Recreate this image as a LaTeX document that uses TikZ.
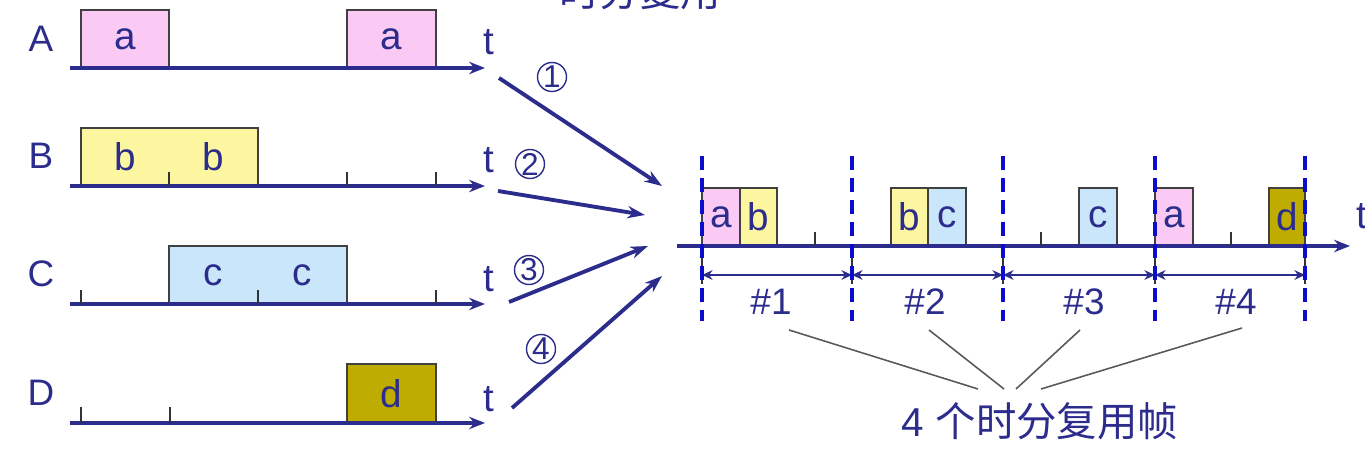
\documentclass[tikz,border=0pt]{standalone}
\usepackage{fontspec}
\setmainfont{Liberation Sans}
\newfontfamily\cjk{Noto Sans CJK SC}
\usetikzlibrary{arrows.meta}
\definecolor{navy}{RGB}{44,44,140}
\definecolor{dblue}{RGB}{12,12,205}
\definecolor{pinkf}{RGB}{250,202,245}
\definecolor{yelf}{RGB}{252,246,160}
\definecolor{bluef}{RGB}{202,230,250}
\definecolor{olivef}{RGB}{190,172,0}
\newcommand\slotbox[7]{\node[boxst,fill=#6,minimum width={(#4-#2)*0.02cm},minimum height={(#5-#3)*0.02cm}] (#1) at ({(#2+#4)/2},{(#3+#5)/2}) {#7};}
\begin{document}
\begin{tikzpicture}[x=0.02cm,y=-0.02cm,
  boxst/.style={draw=black!75,line width=0.6pt,inner sep=0pt,text=navy,font=\fontsize{22}{26}\selectfont},
  axis/.style={navy,line width=2.3pt,-{Stealth[length=9pt,width=7pt]}},
  feed/.style={navy,line width=2.2pt,-{Stealth[length=10pt,width=7pt]}},
  tickst/.style={black!80,line width=0.6pt},
  chname/.style={text=navy,font=\fontsize{21}{24}\selectfont,inner sep=0pt},
  tlab/.style={text=navy,font=\fontsize{22}{24}\selectfont,inner sep=0pt},
  circnum/.style={circle,draw=navy,line width=0.8pt,minimum size=0.58cm,inner sep=0pt,text=navy,font=\fontsize{18}{20}\selectfont},
  frlab/.style={text=navy,font=\fontsize{21}{24}\selectfont,inner sep=0pt},
  dashst/.style={dblue,line width=2.5pt,dash pattern=on 8pt off 4.5pt},
  span/.style={navy,line width=1.6pt,{Stealth[length=6pt,width=5.5pt]}-{Stealth[length=6pt,width=5.5pt]}},
  gline/.style={black!65,line width=0.9pt}
]
\useasboundingbox (0,0) rectangle (1365,455);
% title (cut by the top edge, as in the reference)
\node[text=navy,font=\cjk\fontsize{23}{26}\selectfont,inner sep=0pt] (title) at (640,-9) {时分复用};
% channel labels
\node[chname] (lA) at (41,39) {A};
\node[chname] (lB) at (41,156) {B};
\node[chname] (lC) at (41,274) {C};
\node[chname] (lD) at (41,393) {D};
% boxes left
\slotbox{a1}{81}{10}{169}{68}{pinkf}{a}
\slotbox{a2}{347}{10}{436}{68}{pinkf}{a}
\slotbox{b1}{81}{128}{258}{186}{yelf}{\makebox[1.76cm]{b}\makebox[1.78cm]{b}}
\slotbox{c1}{169}{246}{347}{304}{bluef}{\makebox[1.78cm]{c}\makebox[1.78cm]{c}}
\slotbox{d1}{347}{364}{436}{423}{olivef}{d}
% axes left
\coordinate (axAs) at (70,68); \coordinate (axAe) at (485,68);
\coordinate (axBs) at (70,186); \coordinate (axBe) at (485,186);
\coordinate (axCs) at (70,304); \coordinate (axCe) at (485,304);
\coordinate (axDs) at (70,423); \coordinate (axDe) at (485,423);
\draw[axis] (axAs) -- (axAe);
\draw[axis] (axBs) -- (axBe);
\draw[axis] (axCs) -- (axCe);
\draw[axis] (axDs) -- (axDe);
% ticks left
\foreach \tx in {169,347,436} \draw[tickst] (\tx,186) -- ++(0,-14);
\foreach \tx in {81,258,436} \draw[tickst] (\tx,304) -- ++(0,-14);
\foreach \tx in {81,170} \draw[tickst] (\tx,423) -- ++(0,-16);
% t labels
\node[tlab] (tA) at (489,42) {t};
\node[tlab] (tB) at (489,160) {t};
\node[tlab] (tC) at (489,279) {t};
\node[tlab] (tD) at (489,399) {t};
% feed arrows
\coordinate (f1s) at (499,78); \coordinate (f1e) at (662,186);
\coordinate (f2s) at (498,191); \coordinate (f2e) at (645,215);
\coordinate (f3s) at (509,302); \coordinate (f3e) at (648,246);
\coordinate (f4s) at (512,408); \coordinate (f4e) at (662,276);
\draw[feed] (f1s) -- (f1e);
\draw[feed] (f2s) -- (f2e);
\draw[feed] (f3s) -- (f3e);
\draw[feed] (f4s) -- (f4e);
\node[circnum] (n1) at (552,77) {1};
\node[circnum] (n2) at (530,164) {2};
\node[circnum] (n3) at (529,270) {3};
\node[circnum] (n4) at (541,349) {4};
% right side boxes
\slotbox{ra1}{702}{188}{740}{246}{pinkf}{a}
\slotbox{rb1}{740}{188}{777}{246}{yelf}{b}
\slotbox{rb2}{891}{188}{928}{246}{yelf}{b}
\slotbox{rc2}{928}{188}{966}{246}{bluef}{c}
\slotbox{rc3}{1079}{188}{1117}{246}{bluef}{c}
\slotbox{ra4}{1155}{188}{1193}{246}{pinkf}{a}
\slotbox{rd4}{1269}{188}{1305}{246}{olivef}{d}
% right axis
\coordinate (raxs) at (677,246); \coordinate (raxe) at (1350,246);
\draw[axis] (raxs) -- (raxe);
\node[tlab] (tR) at (1362,216) {t};
\foreach \tx in {815,1041,1231} \draw[tickst] (\tx,246) -- ++(0,-14);
% frame boundary ticks below
\foreach \tx in {702,852,1003,1155,1305} \draw[tickst] (\tx,246) -- (\tx,284);
% span arrows
\coordinate (s0) at (702,275); \coordinate (s1) at (852,275);
\coordinate (s2) at (1003,275); \coordinate (s3) at (1155,275);
\coordinate (s4) at (1305,275);
\draw[span] (s0) -- (s1);
\draw[span] (s1) -- (s2);
\draw[span] (s2) -- (s3);
\draw[span] (s3) -- (s4);
% dashed boundaries
\foreach \tx in {702,852,1003,1155,1305} \draw[dashst] (\tx,156) -- (\tx,321);
% frame labels
\node[frlab] (h1) at (771,302) {\#1};
\node[frlab] (h2) at (925,302) {\#2};
\node[frlab] (h3) at (1084,302) {\#3};
\node[frlab] (h4) at (1236,302) {\#4};
% caption
\node[text=navy,font=\fontsize{23}{26}\selectfont,inner sep=0pt] (cap) at (1040,421) {4 {\cjk 个时分复用帧}};
\coordinate (g1s) at (789,330); \coordinate (g1e) at (978,389);
\coordinate (g2s) at (929,330); \coordinate (g2e) at (1004,389);
\coordinate (g3s) at (1080,330); \coordinate (g3e) at (1016,389);
\coordinate (g4s) at (1242,328); \coordinate (g4e) at (1041,389);
\draw[gline] (g1s) -- (g1e);
\draw[gline] (g2s) -- (g2e);
\draw[gline] (g3s) -- (g3e);
\draw[gline] (g4s) -- (g4e);
\end{tikzpicture}
\end{document}
